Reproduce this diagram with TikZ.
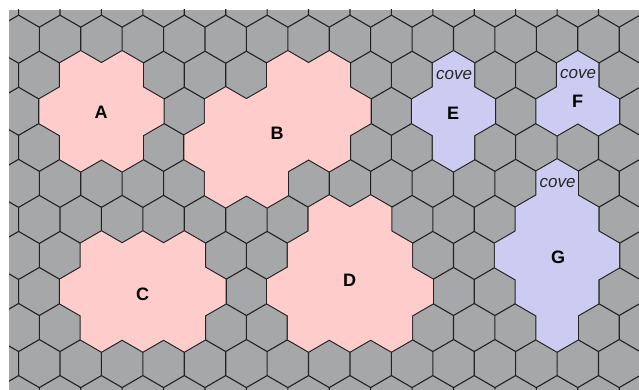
\documentclass[tikz,border=0pt]{standalone}
\usepackage{fontspec}
\setmainfont{Liberation Sans}
\definecolor{hexgray}{RGB}{166,167,169}
\definecolor{hexpink}{RGB}{255,204,204}
\definecolor{hexblue}{RGB}{204,204,242}
\definecolor{hexline}{RGB}{34,34,34}
\newcommand\hexat[2]{({18.6+41.42*(#2)-20.71*mod((#1)+2,2)},{39.2+36.04*(#1)-24.03}) -- ++(20.71,12.015) -- ++(0,24.03) -- ++(-20.71,12.015) -- ++(-20.71,-12.015) -- ++(0,-24.03) -- cycle}
\newcommand\hexregion[2]{%
  \path[regionedge] \foreach \r/\c in {#2} {\hexat{\r}{\c}};
  \path[fill=#1] \foreach \r/\c in {#2} {\hexat{\r}{\c}};
}
\tikzset{
  gridline/.style={draw=hexline, line width=1.1pt},
  regionedge/.style={draw=hexline, line width=2.2pt},
  lab/.style={font=\bfseries\fontsize{18}{18}\selectfont, inner sep=0pt, text=black},
  covelab/.style={font=\itshape\fontsize{17}{17}\selectfont, inner sep=0pt, text=black!85}
}
\begin{document}
\begin{tikzpicture}[x=1pt, y=-1pt, line join=round]
\useasboundingbox (0,0) rectangle (639,390);
\fill[white] (0,0) rectangle (639,390);
\begin{scope}
  \clip (9,10) rectangle (639,390);
  \fill[hexgray] (9,10) rectangle (639,390);
  \path[gridline] \foreach \r in {-1,...,10} {\foreach \c in {-1,...,16} {\hexat{\r}{\c}}};
  % region A
  \hexregion{hexpink}{1/2,1/3,2/1,2/2,2/3,3/2,3/3}
  % region B
  \hexregion{hexpink}{1/7,1/8,2/5,2/6,2/7,2/8,3/5,3/6,3/7,3/8,4/5,4/6}
  % region C
  \hexregion{hexpink}{6/2,6/3,6/4,7/2,7/3,7/4,7/5,8/2,8/3,8/4}
  % region D
  \hexregion{hexpink}{5/8,5/9,6/7,6/8,6/9,7/7,7/8,7/9,7/10,8/7,8/8,8/9}
  % region E
  \hexregion{hexblue}{1/11,2/10,2/11,3/11}
  % region F
  \hexregion{hexblue}{1/14,2/13,2/14}
  % region G
  \hexregion{hexblue}{4/13,5/13,5/14,6/12,6/13,6/14,7/13,7/14,8/13}
\end{scope}
\node[lab] (labA) at (101,112) {A};
\node[lab] (labB) at (277,133) {B};
\node[lab] (labC) at (142.5,294) {C};
\node[lab] (labD) at (349.5,280.5) {D};
\node[lab] (labE) at (453,113.5) {E};
\node[lab] (labF) at (577.5,101) {F};
\node[lab] (labG) at (558,257) {G};
\node[covelab] (coveE) at (454,75) {cove};
\node[covelab] (coveF) at (578,74) {cove};
\node[covelab] (coveG) at (557.5,183) {cove};
\end{tikzpicture}
\end{document}
